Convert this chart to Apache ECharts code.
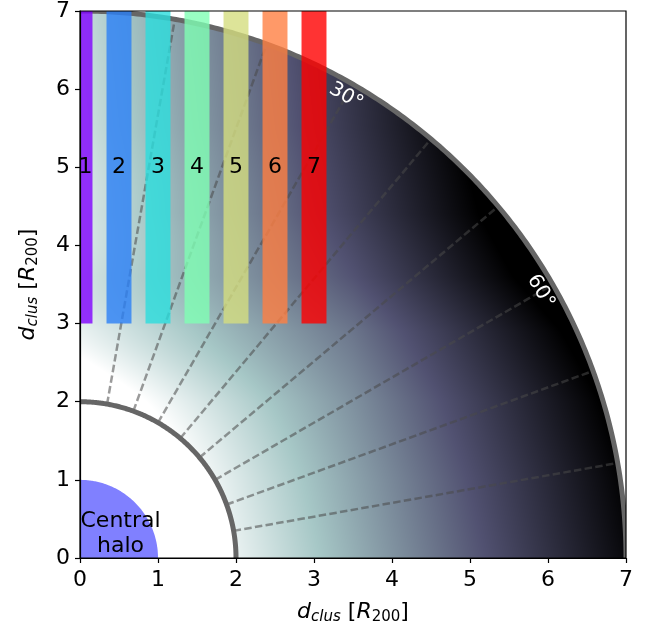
<!DOCTYPE html>
<html>
<head>
<meta charset="utf-8">
<script src="https://cdn.jsdelivr.net/npm/echarts@6/dist/echarts.min.js"></script>
<style>
  html, body { margin: 0; padding: 0; background: #fff; }
  #chart { width: 651px; height: 637px; }
</style>
</head>
<body>
<div id="chart"></div>
<script>
// ---- axis range and ticks (R200 units) ----
const axisMin = 0;
const axisMax = 7;
const tickStep = 1;

// ---- shells ----
const haloRadius = 1;
const innerRadius = 2;
const outerRadius = 7;

// ---- dashed sector boundaries, degrees from the x axis ----
const sectorAngles = [10, 20, 30, 40, 50, 60, 70, 80];

// ---- angle annotations, degrees from the vertical axis ----
const angleMarks = [30, 60];
const angleMarkText = ['30°', '60°'];

// ---- projected bins ----
const binLabels = ['1', '2', '3', '4', '5', '6', '7'];
const binCenters = [0, 0.5, 1, 1.5, 2, 2.5, 3];
const binLow = 3;
const binHigh = 7;
const binColors = ['#8000ff', '#2a80f6', '#2adddd', '#80ffb4', '#d4dd80', '#ff8042', '#ff0000'];

// ---- shading of the infall region (bone_r colour ramp) ----
const shadeSlopeX = 0.18;
const shadeRowY = [0, 1.0, 2.0, 2.9, 3.6, 4.4, 5.5, 7.0];
const shadeRowOffset = [-0.30, -0.26, -0.20, -0.11, 0.0, 0.08, 0.13, 0.16];
// extra tint close to the vertical axis around d = 3
const shadeBumpY = 3.0;
const shadeBumpAmp = 0.17;
const shadeBumpReachX = 3.5;

const FONT = 'DejaVu Sans';
const BIN_WIDTH = 0.32;

function interp(xs, ys, v) {
  if (v <= xs[0]) return ys[0];
  for (let i = 1; i < xs.length; i++) {
    if (v <= xs[i]) {
      const f = (v - xs[i - 1]) / (xs[i] - xs[i - 1]);
      return ys[i - 1] + f * (ys[i] - ys[i - 1]);
    }
  }
  return ys[ys.length - 1];
}

// matplotlib "bone" colormap, t in [0, 1]
function bone(t) {
  t = Math.max(0, Math.min(1, t));
  const r = t < 0.746 ? 0.652 / 0.746 * t : 0.652 + (t - 0.746) * (0.348 / 0.254);
  const g = t < 0.365 ? 0.319 / 0.365 * t
          : t < 0.746 ? 0.319 + (t - 0.365) * (0.463 / 0.381)
          : 0.782 + (t - 0.746) * (0.218 / 0.254);
  const b = t < 0.365 ? 0.444 / 0.365 * t : 0.444 + (t - 0.365) * (0.556 / 0.635);
  return [r * 255, g * 255, b * 255];
}

function shadeLevel(x, y) {
  const bump = shadeBumpAmp * Math.exp(-Math.pow(y - shadeBumpY, 2)) *
               Math.max(0, 1 - x / shadeBumpReachX);
  const u = shadeSlopeX * x + interp(shadeRowY, shadeRowOffset, y) + bump;
  return Math.max(0, Math.min(1, u));
}

let shadeCache = null;
function shadeCanvas(w, h) {
  if (shadeCache && shadeCache.w === w && shadeCache.h === h) return shadeCache.canvas;
  const cv = document.createElement('canvas');
  cv.width = w; cv.height = h;
  const ctx = cv.getContext('2d');
  const img = ctx.createImageData(w, h);
  const span = axisMax - axisMin;
  for (let j = 0; j < h; j++) {
    const y = axisMax - (j + 0.5) / h * span;
    for (let i = 0; i < w; i++) {
      const x = axisMin + (i + 0.5) / w * span;
      const r = Math.hypot(x, y);
      if (r < innerRadius || r > outerRadius) continue;
      const c = bone(1 - shadeLevel(x, y));
      const k = (j * w + i) * 4;
      img.data[k] = c[0]; img.data[k + 1] = c[1]; img.data[k + 2] = c[2]; img.data[k + 3] = 255;
    }
  }
  ctx.putImageData(img, 0, 0);
  shadeCache = { w, h, canvas: cv };
  return cv;
}

function arcPoints(api, r, a0, a1, n) {
  const pts = [];
  for (let k = 0; k <= n; k++) {
    const a = (a0 + (a1 - a0) * k / n) * Math.PI / 180;
    pts.push(api.coord([r * Math.cos(a), r * Math.sin(a)]));
  }
  return pts;
}

const chart = echarts.init(document.getElementById('chart'));

const axisCommon = {
  type: 'value',
  min: axisMin,
  max: axisMax,
  interval: tickStep,
  z: 20,
  splitLine: { show: false },
  axisLine: { show: true, lineStyle: { color: '#000', width: 1.2 } },
  axisTick: { show: true, inside: false, length: 5, lineStyle: { color: '#000', width: 1.2 } },
  axisLabel: { color: '#000', fontSize: 22, fontFamily: FONT },
  name: '{it|d}{sub|clus} [{it|R}{subu|200}]',
  nameLocation: 'middle',
  nameTextStyle: {
    color: '#000', fontSize: 22, fontFamily: FONT, lineHeight: 26,
    rich: {
      it: { fontStyle: 'italic', fontSize: 22, fontFamily: FONT, lineHeight: 26, color: '#000' },
      sub: { fontStyle: 'italic', fontSize: 15, fontFamily: FONT, lineHeight: 15, verticalAlign: 'bottom', color: '#000' },
      subu: { fontSize: 15, fontFamily: FONT, lineHeight: 15, verticalAlign: 'bottom', color: '#000' }
    }
  }
};

const option = {
  animation: false,
  backgroundColor: '#fff',
  grid: {
    left: 80, right: 25, top: 10, bottom: 79,
    show: true, z: 20, backgroundColor: 'transparent',
    borderColor: '#000', borderWidth: 1.2
  },
  xAxis: Object.assign({}, axisCommon, {
    nameGap: 41,
    axisLabel: Object.assign({}, axisCommon.axisLabel, { margin: 11 })
  }),
  yAxis: Object.assign({}, axisCommon, {
    nameGap: 39,
    nameRotate: 90,
    axisLabel: Object.assign({}, axisCommon.axisLabel, { margin: 10 })
  }),
  series: [
    // shaded infall region between the two shells
    {
      type: 'custom', clip: true, z: 1, silent: true,
      data: [[innerRadius, outerRadius]],
      renderItem: function (params, api) {
        const p0 = api.coord([axisMin, axisMin]);
        const p1 = api.coord([axisMax, axisMax]);
        const w = Math.round(p1[0] - p0[0]);
        const h = Math.round(p0[1] - p1[1]);
        return {
          type: 'image',
          style: { image: shadeCanvas(w, h), x: p0[0], y: p1[1], width: w, height: h }
        };
      }
    },
    // dashed sector boundaries
    {
      type: 'custom', clip: true, z: 2, silent: true,
      data: sectorAngles.map(a => [a]),
      renderItem: function (params, api) {
        const a = api.value(0) * Math.PI / 180;
        const s = api.coord([innerRadius * Math.cos(a), innerRadius * Math.sin(a)]);
        const e = api.coord([outerRadius * Math.cos(a), outerRadius * Math.sin(a)]);
        return {
          type: 'line',
          shape: { x1: s[0], y1: s[1], x2: e[0], y2: e[1] },
          style: { stroke: 'rgba(72,72,72,0.55)', lineWidth: 2.5, lineDash: [7.5, 3.3] }
        };
      }
    },
    // shells
    {
      type: 'custom', clip: true, z: 3, silent: true,
      data: [[innerRadius], [outerRadius]],
      renderItem: function (params, api) {
        return {
          type: 'polyline',
          shape: { points: arcPoints(api, api.value(0), 0, 90, 240) },
          style: { stroke: '#666666', lineWidth: 5, fill: null }
        };
      }
    },
    // central halo
    {
      type: 'custom', clip: true, z: 3, silent: true,
      data: [[haloRadius]],
      renderItem: function (params, api) {
        const pts = [api.coord([0, 0])].concat(arcPoints(api, api.value(0), 0, 90, 120));
        const c = api.coord([0.52, 0.31]);
        return {
          type: 'group',
          children: [
            { type: 'polygon', shape: { points: pts }, style: { fill: '#8080ff' } },
            {
              type: 'text', x: c[0], y: c[1],
              style: {
                text: 'Central\nhalo', fill: '#000', fontSize: 22, fontFamily: FONT,
                lineHeight: 25, align: 'center', verticalAlign: 'middle'
              }
            }
          ]
        };
      }
    },
    // projected bins
    {
      type: 'custom', clip: true, z: 4, silent: true,
      data: binCenters.map((c, i) => [c, binLow, binHigh, i]),
      renderItem: function (params, api) {
        const c = api.value(0);
        const i = api.value(3);
        const tl = api.coord([c - BIN_WIDTH / 2, api.value(2)]);
        const br = api.coord([c + BIN_WIDTH / 2, api.value(1)]);
        const lp = api.coord([Math.max(c, 0.07), (binLow + binHigh) / 2]);
        return {
          type: 'group',
          children: [
            {
              type: 'rect',
              shape: { x: tl[0], y: tl[1], width: br[0] - tl[0], height: br[1] - tl[1] },
              style: { fill: binColors[i], opacity: 0.8 }
            },
            {
              type: 'text', x: lp[0], y: lp[1],
              style: {
                text: binLabels[i], fill: '#000', fontSize: 22, fontFamily: FONT,
                align: 'center', verticalAlign: 'middle'
              }
            }
          ]
        };
      }
    },
    // angle annotations
    {
      type: 'custom', clip: true, z: 5, silent: true,
      data: angleMarks.map((a, i) => [a, i]),
      renderItem: function (params, api) {
        const a = api.value(0);
        const phi = (90 - a) * Math.PI / 180;
        const p = api.coord([6.82 * Math.cos(phi), 6.82 * Math.sin(phi)]);
        return {
          type: 'text', x: p[0], y: p[1], rotation: -a * Math.PI / 180,
          style: {
            text: angleMarkText[api.value(1)], fill: '#fff', fontSize: 20, fontFamily: FONT,
            align: 'center', verticalAlign: 'middle'
          }
        };
      }
    }
  ]
};

chart.setOption(option);
</script>
</body>
</html>
